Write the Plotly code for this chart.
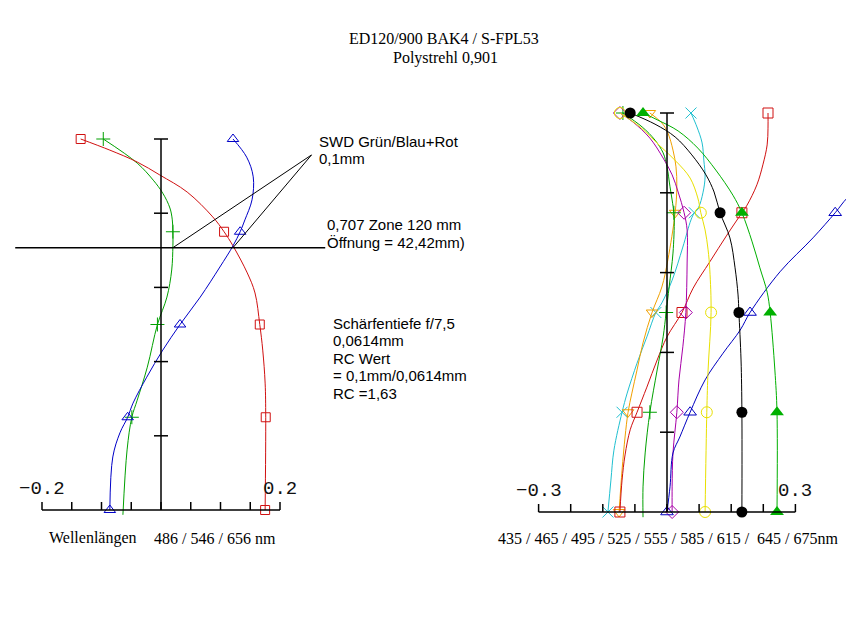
import plotly.graph_objects as go

# ---------------- Texte ----------------
TITLE_LINES = ["ED120/900 BAK4 / S-FPL53", "Polystrehl 0,901"]
SWD_TEXT = ["SWD Grün/Blau+Rot", "0,1mm"]
ZONE_TEXT = ["0,707 Zone 120 mm", "Öffnung = 42,42mm)"]
RC_TEXT = ["Schärfentiefe f/7,5", "0,0614mm", "RC Wert", "= 0,1mm/0,0614mm", "RC =1,63"]
LEFT_WL_LABEL = ["Wellenlängen", "486 / 546 / 656 nm"]
RIGHT_WL_LABEL = "435 / 465 / 495 / 525 / 555 / 585 / 615 /  645 / 675nm"

# Achsen / Ticks
LEFT_XTICKS = [-0.2, -0.15, -0.1, -0.05, 0.0, 0.05, 0.1, 0.15, 0.2]
RIGHT_XTICKS = [-0.3, -0.225, -0.15, -0.075, 0.0, 0.075, 0.15, 0.225, 0.3]
ZONE_TICKS = [0.2, 0.4, 0.6, 0.8, 1.0]
LEFT_XLABELS = {-0.2: "\u22120.2", 0.2: "0.2"}
RIGHT_XLABELS = {-0.3: "\u22120.3", 0.3: "0.3"}
MARK_ZONES = [1.0, 0.75, 0.5, 0.25, 0.0]
ZONE_707 = 0.707

# ---------------- linkes Diagramm: 486 / 546 / 656 nm ----------------
# f = relative Zonenhoehe, x = Schnittweite (mm)
L_GREEN_F = [1.0, 0.935, 0.889, 0.854, 0.814, 0.782, 0.75, 0.712, 0.647, 0.574, 0.5, 0.385, 0.296, 0.25, 0.162, -0.013]
L_GREEN_X = [-0.097, -0.040, -0.013, 0.003, 0.015, 0.019, 0.020, 0.020, 0.018, 0.010, -0.006, -0.023, -0.040, -0.049, -0.057, -0.064]

L_BLUE_F = [1.0, 0.951, 0.898, 0.836, 0.782, 0.75, 0.712, 0.655, 0.574, 0.5, 0.431, 0.358, 0.288, 0.25, 0.208, 0.143, 0.0]
L_BLUE_X = [0.121, 0.144, 0.155, 0.153, 0.141, 0.133, 0.121, 0.099, 0.066, 0.032, 0.003, -0.024, -0.047, -0.056, -0.069, -0.081, -0.086]

L_RED_F = [1.0, 0.970, 0.938, 0.903, 0.857, 0.790, 0.75, 0.712, 0.639, 0.585, 0.5, 0.431, 0.342, 0.25, 0.0]
L_RED_X = [-0.135, -0.086, -0.040, -0.002, 0.044, 0.087, 0.106, 0.121, 0.145, 0.158, 0.166, 0.171, 0.175, 0.176, 0.175]

# SWD-Dreieck
SWD_BASE_X = [0.020, 0.121]
SWD_APEX = (0.253, 0.957)
ZONE_LINE_X = (-0.245, 0.276)

# ---------------- rechtes Diagramm: 435 ... 675 nm ----------------
R_CYAN_F = [1.0, 0.965, 0.925, 0.882, 0.840, 0.800, 0.764, 0.75, 0.732, 0.664, 0.581, 0.524, 0.5, 0.439, 0.373, 0.298, 0.25, 0.155, 0.080, 0.0]
R_CYAN_X = [0.056, 0.070, 0.082, 0.086, 0.089, 0.084, 0.074, 0.064, 0.056, 0.037, 0.012, -0.012, -0.026, -0.047, -0.070, -0.093, -0.105, -0.124, -0.131, -0.138]

R_ORANGE_F = [1.0, 0.975, 0.950, 0.907, 0.865, 0.815, 0.75, 0.632, 0.564, 0.5, 0.424, 0.356, 0.298, 0.25, 0.188, 0.105, 0.0]
R_ORANGE_X = [-0.040, -0.012, 0.002, 0.014, 0.021, 0.023, 0.019, 0.002, -0.012, -0.035, -0.056, -0.070, -0.082, -0.091, -0.098, -0.105, -0.112]

R_RED_F = [1.0, 0.962, 0.920, 0.870, 0.820, 0.769, 0.75, 0.694, 0.627, 0.561, 0.5, 0.439, 0.381, 0.313, 0.25, 0.206, 0.143, 0.080, 0.0]
R_RED_X = [0.236, 0.236, 0.234, 0.224, 0.210, 0.187, 0.175, 0.140, 0.100, 0.061, 0.035, 0.0, -0.023, -0.047, -0.070, -0.086, -0.098, -0.105, -0.110]

R_GREEN_F = [1.0, 0.965, 0.932, 0.900, 0.865, 0.815, 0.782, 0.75, 0.732, 0.649, 0.564, 0.5, 0.439, 0.356, 0.25, 0.148, 0.063, -0.013]
R_GREEN_X = [-0.103, -0.058, -0.028, -0.009, 0.0, 0.007, 0.012, 0.016, 0.017, 0.014, 0.005, -0.002, -0.009, -0.023, -0.040, -0.051, -0.056, -0.056]

R_MAGENTA_F = [1.0, 0.977, 0.937, 0.887, 0.845, 0.802, 0.75, 0.707, 0.624, 0.5, 0.414, 0.331, 0.25, 0.148, 0.063, 0.0]
R_MAGENTA_X = [-0.110, -0.079, -0.040, -0.009, 0.012, 0.026, 0.040, 0.047, 0.047, 0.044, 0.037, 0.028, 0.023, 0.014, 0.012, 0.012]

R_BLUE_F = [0.0, 0.063, 0.148, 0.188, 0.25, 0.331, 0.398, 0.456, 0.5, 0.602, 0.687, 0.75, 0.787, 0.82]
R_BLUE_X = [0.0, 0.007, 0.014, 0.030, 0.054, 0.089, 0.131, 0.171, 0.194, 0.264, 0.341, 0.393, 0.421, 0.46]

R_YELLOW_F = [1.0, 0.965, 0.917, 0.877, 0.837, 0.787, 0.75, 0.707, 0.657, 0.607, 0.5, 0.356, 0.25, 0.0]
R_YELLOW_X = [-0.110, -0.063, -0.016, 0.023, 0.054, 0.072, 0.079, 0.089, 0.096, 0.100, 0.103, 0.096, 0.093, 0.089]

R_BLACK_F = [1.0, 0.972, 0.940, 0.895, 0.845, 0.802, 0.75, 0.687, 0.612, 0.544, 0.5, 0.381, 0.25, 0.0]
R_BLACK_X = [-0.086, -0.028, 0.019, 0.058, 0.091, 0.110, 0.124, 0.147, 0.159, 0.166, 0.168, 0.173, 0.175, 0.175]

R_GREENTRI_F = [1.0, 0.982, 0.955, 0.912, 0.857, 0.794, 0.75, 0.677, 0.612, 0.551, 0.5, 0.356, 0.25, 0.0]
R_GREENTRI_X = [-0.056, -0.021, 0.026, 0.072, 0.114, 0.154, 0.175, 0.199, 0.217, 0.234, 0.241, 0.252, 0.257, 0.257]

# ---------------- Geometrie (Pixel im Fenster) ----------------
WIN_W, WIN_H = 854, 633
PAD = 8               # Standard-Rand des <body>
W, H = WIN_W - PAD, WIN_H - PAD
L_ORIG = (161, 510)   # Pixel von x=0 / f=0
L_SCALE = (595, 371)  # px pro mm, px pro Zone
L_DOM = (8, 480)
R_ORIG = (667, 512)
R_SCALE = (428, 399)
R_DOM = (490, 854)

SERIF = "Liberation Serif, Times New Roman, serif"
SANS = "Liberation Sans, Arial, sans-serif"
MONO = "Liberation Mono, DejaVu Sans Mono, monospace"


def axis_range(orig, scale, dom):
    # Fensterpixel -> Datenbereich der Achse
    xr = [(dom[0] - orig[0]) / scale[0], (dom[1] - orig[0]) / scale[0]]
    yr = [(orig[1] - WIN_H) / scale[1], (orig[1] - PAD) / scale[1]]
    return xr, yr


def add_curve(fig, f, x, color, symbol, size, xa, ya, filled=False):
    fig.add_trace(go.Scatter(
        x=x, y=f, mode="lines", xaxis=xa, yaxis=ya,
        line=dict(color=color, width=1, shape="spline", smoothing=1.0),
        hoverinfo="skip"))
    mx = [xv for xv, fv in zip(x, f) if fv in MARK_ZONES]
    my = [fv for fv in f if fv in MARK_ZONES]
    fig.add_trace(go.Scatter(
        x=mx, y=my, mode="markers", xaxis=xa, yaxis=ya, cliponaxis=False,
        marker=dict(symbol=symbol, size=size, color=color,
                    line=dict(color=color, width=0 if filled else 1)),
        hoverinfo="skip"))


def add_axes(fig, xref, yref, xticks, labels):
    ln = dict(color="black", width=1.5)
    # Nulllinie unten und senkrechte Achse
    fig.add_shape(type="line", xref=xref, yref=yref, x0=xticks[0], x1=xticks[-1], y0=0, y1=0, line=ln)
    fig.add_shape(type="line", xref=xref, yref=yref, x0=0, x1=0, y0=0, y1=ZONE_TICKS[-1], line=ln)
    for t in xticks:
        fig.add_shape(type="line", xref=xref, yref=yref, ysizemode="pixel", yanchor=0,
                      x0=t, x1=t, y0=0, y1=8, line=ln)
    for z in ZONE_TICKS:
        fig.add_shape(type="line", xref=xref, yref=yref, xsizemode="pixel", xanchor=0,
                      x0=-7, x1=7, y0=z, y1=z, line=ln)
    for t, s in labels.items():
        fig.add_annotation(x=t, y=0, xref=xref, yref=yref, text=s, showarrow=False,
                           xanchor="center", yanchor="middle", yshift=21,
                           font=dict(family=MONO, size=19, color="#111111"))


def text_at(fig, px, py, s, family, size, anchor="left"):
    fig.add_annotation(x=(px - PAD) / W, y=1 - (py - PAD) / H, xref="paper", yref="paper",
                       text=s, showarrow=False, xanchor=anchor, yanchor="middle",
                       font=dict(family=family, size=size, color="black"))


fig = go.Figure()

lxr, lyr = axis_range(L_ORIG, L_SCALE, L_DOM)
rxr, ryr = axis_range(R_ORIG, R_SCALE, R_DOM)

# linke Kurven
add_curve(fig, L_GREEN_F, L_GREEN_X, "#00A000", "cross-thin", 10, "x", "y")
add_curve(fig, L_RED_F, L_RED_X, "#D01010", "square-open", 9, "x", "y")
add_curve(fig, L_BLUE_F, L_BLUE_X, "#0000C8", "triangle-up-open", 10, "x", "y")

# rechte Kurven
add_curve(fig, R_CYAN_F, R_CYAN_X, "#20C0D0", "x-thin", 11, "x2", "y2")
add_curve(fig, R_ORANGE_F, R_ORANGE_X, "#F0A000", "triangle-down-open", 10, "x2", "y2")
add_curve(fig, R_RED_F, R_RED_X, "#D01010", "square-open", 10, "x2", "y2")
add_curve(fig, R_GREEN_F, R_GREEN_X, "#00A000", "cross-thin", 10, "x2", "y2")
add_curve(fig, R_MAGENTA_F, R_MAGENTA_X, "#A800A8", "diamond-open", 10, "x2", "y2")
add_curve(fig, R_BLUE_F, R_BLUE_X, "#0000C0", "triangle-up-open", 11, "x2", "y2")
add_curve(fig, R_YELLOW_F, R_YELLOW_X, "#E8E000", "circle-open", 11, "x2", "y2")
add_curve(fig, R_BLACK_F, R_BLACK_X, "#000000", "circle", 11, "x2", "y2", filled=True)
add_curve(fig, R_GREENTRI_F, R_GREENTRI_X, "#00B000", "triangle-up", 12, "x2", "y2", filled=True)

add_axes(fig, "x", "y", LEFT_XTICKS, LEFT_XLABELS)
add_axes(fig, "x2", "y2", RIGHT_XTICKS, RIGHT_XLABELS)

# 0,707-Zone und SWD-Dreieck
fig.add_shape(type="line", xref="x", yref="y", x0=ZONE_LINE_X[0], x1=ZONE_LINE_X[1],
              y0=ZONE_707, y1=ZONE_707, line=dict(color="black", width=1.5))
for bx in SWD_BASE_X:
    fig.add_shape(type="line", xref="x", yref="y", x0=bx, x1=SWD_APEX[0],
                  y0=ZONE_707, y1=SWD_APEX[1], line=dict(color="black", width=1))

# Texte
text_at(fig, 444, 39, TITLE_LINES[0], SERIF, 16, "center")
text_at(fig, 445, 58, TITLE_LINES[1], SERIF, 16, "center")
for i, s in enumerate(SWD_TEXT):
    text_at(fig, 317, 141 + 17 * i, s, SANS, 15)
for i, s in enumerate(ZONE_TEXT):
    text_at(fig, 325, 224 + 18 * i, s, SANS, 15)
for i, s in enumerate(RC_TEXT):
    text_at(fig, 331, 323 + 17.5 * i, s, SANS, 15)
text_at(fig, 47, 538, LEFT_WL_LABEL[0], SERIF, 16)
text_at(fig, 152, 538, LEFT_WL_LABEL[1], SERIF, 16)
text_at(fig, 496, 538, RIGHT_WL_LABEL, SERIF, 16)

hidden = dict(visible=False, fixedrange=True)
fig.update_layout(
    width=W, height=H,
    margin=dict(l=0, r=0, t=0, b=0),
    paper_bgcolor="white", plot_bgcolor="white",
    showlegend=False,
    xaxis=dict(hidden, domain=[(L_DOM[0] - PAD) / W, (L_DOM[1] - PAD) / W], range=lxr),
    yaxis=dict(hidden, domain=[0, 1], range=lyr, anchor="x"),
    xaxis2=dict(hidden, domain=[(R_DOM[0] - PAD) / W, (R_DOM[1] - PAD) / W], range=rxr, anchor="y2"),
    yaxis2=dict(hidden, domain=[0, 1], range=ryr, anchor="x2"),
)

fig.write_html("out.html")
